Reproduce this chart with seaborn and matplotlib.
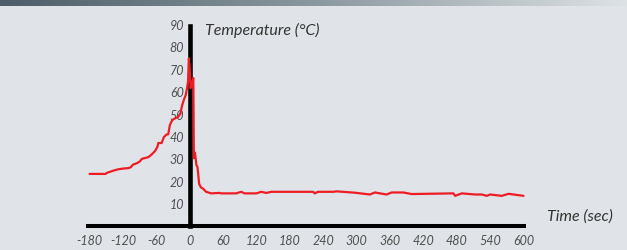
import numpy as np
import pandas as pd
import seaborn as sns
import matplotlib.pyplot as plt
from matplotlib.colors import LinearSegmentedColormap

# temperature trace (seconds, deg C)
time_sec = [-180, -151.5, -148.5, -142.6, -136.7, -127.7, -118.8, -109.9, -105.8, -102.2,
            -93.9, -89.1, -86.2, -74.3, -68.3, -62.4, -58.2, -56.4, -50.5, -46.3,
            -41.6, -38.6, -35.7, -31.5, -26.7, -20.8, -16.6, -14.3, -10.7, -7.1,
            -4.8, -3.0, -1.5, 0.5, 1.5, 4, 6.5, 7.5, 9.5, 12,
            14, 17, 20, 23.5, 29.5, 38.5, 53.6, 56.5, 83.6, 92.6,
            98.6, 119.6, 128.6, 137.6, 146.6, 221.7, 224.7, 230.7, 258, 264,
            296.8, 323.8, 332.8, 353.9, 362.9, 384, 399, 474, 477, 489,
            513, 525, 534, 540, 561, 573, 600]
temp_c = [23.5, 23.5, 24.0, 24.5, 25.0, 25.6, 25.9, 26.1, 26.5, 27.6,
          28.4, 29.2, 30.2, 31.0, 32.2, 33.7, 35.5, 37.3, 37.3, 40.0,
          41.1, 41.2, 45.3, 47.5, 48.3, 49.0, 50.5, 53.5, 56.5, 58.8,
          61.8, 64.8, 75.2, 68.0, 61.8, 64.0, 66.3, 30.5, 33.0, 27.5,
          26.5, 19.0, 17.5, 17.0, 15.5, 14.8, 15.0, 14.8, 14.8, 15.5,
          14.8, 14.8, 15.5, 15.0, 15.5, 15.5, 14.8, 15.5, 15.5, 15.7,
          15.1, 14.3, 15.2, 14.3, 15.2, 15.2, 14.5, 14.8, 13.7, 14.8,
          14.3, 14.3, 13.7, 14.3, 13.7, 14.6, 13.7]

x_ticks = list(range(-180, 601, 60))
y_ticks = list(range(10, 91, 10))

df = pd.DataFrame({"time": time_sec, "temp": temp_c})

sns.set_theme(style="white")
plt.rcParams['font.family'] = ['Lato', 'DejaVu Sans']
plt.rcParams['axes.unicode_minus'] = False

bg = "#e0e4e8"
fig = plt.figure(figsize=(6.27, 2.5), dpi=100)
fig.patch.set_facecolor(bg)

ax = fig.add_axes([0, 0, 1, 1])
ax.set_facecolor("none")
sns.lineplot(data=df, x="time", y="temp", ax=ax, color="#ee1c25",
             linewidth=1.6, estimator=None, sort=False, zorder=3)

ax.set_xlim(-341, 786)
ax.set_ylim(-10.5, 101.2)

for s in ["top", "right"]:
    ax.spines[s].set_visible(False)
ax.spines["left"].set_position(("data", 0))
ax.spines["bottom"].set_position(("data", 0))
ax.spines["left"].set_bounds(0, 89.5)
ax.spines["bottom"].set_bounds(-182, 601)
ax.spines["left"].set_linewidth(3.3)
ax.spines["bottom"].set_linewidth(2.9)
ax.spines["left"].set_color("black")
ax.spines["bottom"].set_color("black")

ax.set_xticks(x_ticks)
ax.set_yticks(y_ticks)
ax.tick_params(axis="x", direction="out", length=3.4, width=0.8, color="black",
               pad=2.5, labelsize=9, labelcolor="#505050")
ax.tick_params(axis="y", length=0, pad=4, labelsize=9, labelcolor="#505050")
for lab in ax.get_xticklabels() + ax.get_yticklabels():
    lab.set_fontstyle("italic")
ax.set_xlabel("")
ax.set_ylabel("")

fig.text(205 / 627, 1 - 30 / 250, "Temperature (\u00b0C)", fontsize=11.5, style="italic",
         color="#333333", ha="left", va="center")
fig.text(547 / 627, 1 - 217 / 250, "Time (sec)", fontsize=11.5, style="italic",
         color="#333333", ha="left", va="center")

# header banner strip at the top
band = fig.add_axes([0, 1 - 6.5 / 250, 1, 6.5 / 250])
grad = np.linspace(0, 1, 256).reshape(1, -1)
cmap = LinearSegmentedColormap.from_list("band", ["#4d5d67", "#8a979e", "#dde2e5"])
band.imshow(grad, aspect="auto", cmap=cmap)
band.axis("off")

fig.savefig("out.png", dpi=100, facecolor=bg)
